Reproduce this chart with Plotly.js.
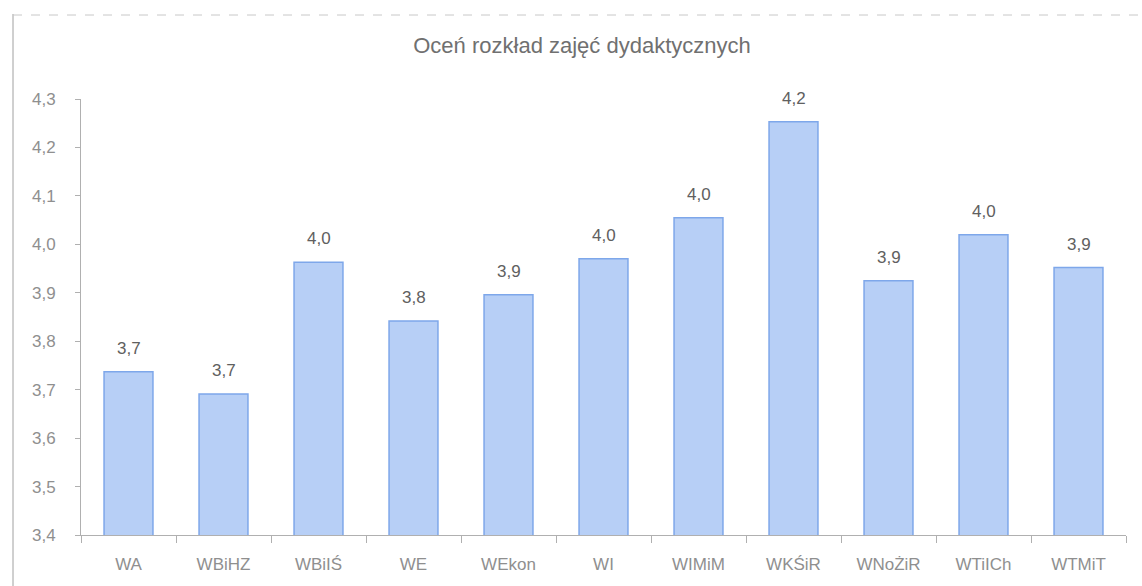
<!DOCTYPE html>
<html><head><meta charset="utf-8">
<script src="https://cdn.plot.ly/plotly-3.0.1.min.js"></script>
<style>html,body{margin:0;padding:0;background:#fff;}#chart{width:1142px;height:586px;}</style>
</head><body><div id="chart"></div>
<script>
const categories = ["WA","WBiHZ","WBiIŚ","WE","WEkon","WI","WIMiM","WKŚiR","WNoŻiR","WTiICh","WTMiT"];
const values = [3.737,3.691,3.963,3.842,3.896,3.970,4.055,4.253,3.925,4.020,3.952];
const valueLabels = ["3,7","3,7","4,0","3,8","3,9","4,0","4,0","4,2","3,9","4,0","3,9"];
const yTickVals = [3.4,3.5,3.6,3.7,3.8,3.9,4.0,4.1,4.2,4.3];
const yTickText = ["3,4","3,5","3,6","3,7","3,8","3,9","4,0","4,1","4,2","4,3"];
const FONT = '"Liberation Sans",Arial,sans-serif';

const trace = {
  type:'bar', x:categories, y:values,
  marker:{color:'#b7cff6', line:{color:'#7ea7ea', width:1.5}},
  hoverinfo:'none'
};
const annotations = categories.map((c,i)=>({
  x:c, y:values[i], text:valueLabels[i], showarrow:false,
  yanchor:'bottom', yshift:12, font:{family:FONT, size:17, color:'#606060'}
}));
const PW = 1126-81, PH = 535-99;
const layout = {
  width:1142, height:586,
  margin:{l:81, r:16, t:99, b:51},
  paper_bgcolor:'#ffffff', plot_bgcolor:'#ffffff',
  showlegend:false, bargap:0.485,
  title:{text:'Oceń rozkład zajęć dydaktycznych', x:582/1142, xref:'container', xanchor:'center',
         y:1-45/586, yref:'container', yanchor:'middle',
         font:{family:FONT, size:22, color:'#707070'}},
  xaxis:{type:'category', showline:true, linecolor:'#b0b0b0', linewidth:1,
         ticks:'outside', tickson:'boundaries', ticklen:7, tickcolor:'#b0b0b0',
         ticklabelstandoff:14,
         tickfont:{family:FONT, size:17, color:'#8f8f8f'}, showgrid:false, zeroline:false},
  yaxis:{range:[3.4,4.3], tickvals:yTickVals, ticktext:yTickText, showline:true,
         linecolor:'#b0b0b0', linewidth:1, ticks:'outside', ticklen:5, tickcolor:'#b0b0b0',
         ticklabelstandoff:16,
         tickfont:{family:FONT, size:17, color:'#8f8f8f'}, showgrid:false, zeroline:false},
  annotations:annotations,
  shapes:[
    {type:'line', xref:'paper', yref:'paper', x0:-(81-13)/PW, x1:-(81-13)/PW, y0:-51/PH, y1:(PH+85)/PH,
     line:{color:'#a0a0a0', width:1}},
    {type:'line', xref:'paper', yref:'paper', x0:-(81-13)/PW, x1:(1142-81)/PW, y0:(PH+84)/PH, y1:(PH+84)/PH,
     line:{color:'#c8c8c8', width:1, dash:'dash'}}
  ]
};
Plotly.newPlot('chart',[trace],layout,{staticPlot:true});
</script></body></html>
